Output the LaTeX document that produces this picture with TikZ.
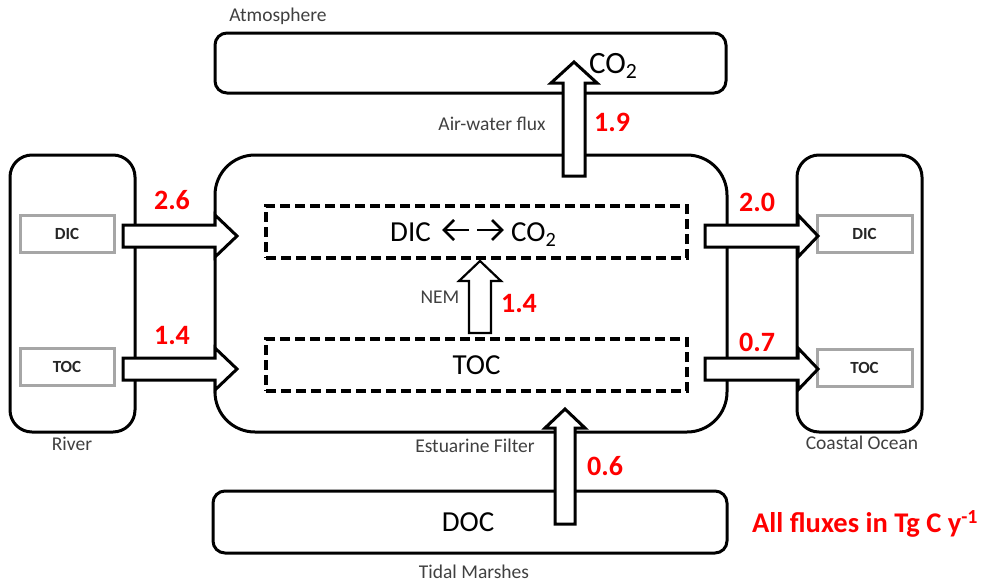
\documentclass[tikz,border=0pt]{standalone}
\usepackage{fontspec}
\usetikzlibrary{calc}
\setmainfont{Carlito}
\definecolor{lbl}{HTML}{404040}
\definecolor{gbox}{HTML}{A6A6A6}
\definecolor{fluxred}{HTML}{FF0000}
\newcommand{\harrowpath}[4]{(#1,#4-11) -- (#2,#4-11) -- (#2,#4-21) -- (#3,#4) -- (#2,#4+21) -- (#2,#4+11) -- (#1,#4+11) -- cycle}
\newcommand{\varrowpath}[6]{(#1-#5,#2) -- (#1-#5,#3) -- (#1-#6,#3) -- (#1,#4) -- (#1+#6,#3) -- (#1+#5,#3) -- (#1+#5,#2) -- cycle}
\begin{document}
\begin{tikzpicture}[x=1pt,y=-1pt,
  box/.style={draw, line width=3pt, rounded corners=12pt, inner sep=0pt, outer sep=0pt},
  greybox/.style={draw=gbox, line width=3pt, fill=white, inner sep=0pt, outer sep=0pt, text=black!85, font=\bfseries\fontsize{17}{20}\selectfont},
  dbox/.style={draw, line width=3.2pt, dash pattern=on 10pt off 5pt, inner sep=0pt, outer sep=0pt},
  blockarrow/.style={draw, fill=white, line width=3pt, line join=miter},
  chev/.style={line width=2.6pt, line cap=butt, line join=miter},
  lab/.style={text=lbl, font=\fontsize{19.5}{22}\selectfont, inner sep=0pt},
  num/.style={text=fluxred, font=\bfseries\fontsize{28}{32}\selectfont, inner sep=0pt},
  big/.style={font=\fontsize{29}{34}\selectfont, inner sep=0pt}]
\useasboundingbox (0,0) rectangle (982,584);

% boxes
\node[box, minimum width=511pt, minimum height=60pt] (atm) at (470.5,63) {};
\node[box, rounded corners=40pt, minimum width=512pt, minimum height=277pt] (est) at (471,293.5) {};
\node[box, rounded corners=22pt, minimum width=125pt, minimum height=277pt] (river) at (72.5,293.5) {};
\node[box, rounded corners=22pt, minimum width=125pt, minimum height=277pt] (ocean) at (859.5,293.5) {};
\node[box, minimum width=514pt, minimum height=62pt] (marsh) at (470,522) {};

\node[dbox, minimum width=421pt, minimum height=52pt] (dicpool) at (476.5,232) {};
\node[dbox, minimum width=421pt, minimum height=52pt] (tocpool) at (476.5,365) {};

\node[greybox, minimum width=94pt, minimum height=37pt] (rdic) at (67,233.5) {DIC};
\node[greybox, minimum width=94pt, minimum height=37pt] (rtoc) at (67,367) {TOC};
\node[greybox, minimum width=95pt, minimum height=37pt] (odic) at (864.5,233.5) {DIC};
\node[greybox, minimum width=95pt, minimum height=37pt] (otoc) at (864.5,367.5) {TOC};

% block arrows
\draw[blockarrow] \harrowpath{123}{215}{237}{236};
\draw[blockarrow] \harrowpath{123}{215}{237}{369};
\draw[blockarrow] \harrowpath{705}{798}{818}{236};
\draw[blockarrow] \harrowpath{705}{798}{818}{369};
\draw[blockarrow] \varrowpath{574}{176}{83}{62}{11}{23};
\draw[blockarrow, line width=2.2pt] \varrowpath{480}{333}{281}{261}{11}{21};
\draw[blockarrow] \varrowpath{565}{524}{428}{409}{10}{20};

% texts
\node[big, anchor=base] (tdic) at (410.5,241.5) {DIC};
\node[big, anchor=base west] (tco2) at (511,241.5) {CO\textsubscript{2}};
\coordinate (la1) at (469,230);
\coordinate (la2) at (444,230);
\coordinate (ra1) at (477,230);
\coordinate (ra2) at (502,230);
\draw[chev] (la1) -- (la2);
\draw[chev] ($(la2)+(10,-10)$) -- (la2) -- ($(la2)+(10,10)$);
\draw[chev] (ra1) -- (ra2);
\draw[chev] ($(ra2)+(-10,-10)$) -- (ra2) -- ($(ra2)+(-10,10)$);
\node[big] (t2) at (tocpool) {TOC};
\node[big] (t3) at (468,522) {DOC};
\node[big, font=\fontsize{31}{34}\selectfont, anchor=west] (t4) at (589,66) {CO\textsubscript{2}};

\node[lab] (l1) at (278,16) {Atmosphere};
\node[lab] (l2) at (72,444) {River};
\node[lab] (l3) at (862,443) {Coastal Ocean};
\node[lab] (l4) at (492,124) {Air-water flux};
\node[lab] (l5) at (475,446) {Estuarine Filter};
\node[lab] (l6) at (474,572) {Tidal Marshes};
\node[lab] (l7) at (440,297) {NEM};

\node[num] (n1) at (172,200) {2.6};
\node[num] (n2) at (172,335) {1.4};
\node[num] (n3) at (757,202) {2.0};
\node[num] (n4) at (757,342) {0.7};
\node[num] (n5) at (612,122) {1.9};
\node[num] (n6) at (519,303) {1.4};
\node[num] (n7) at (605,466) {0.6};
\node[num, font=\bfseries\fontsize{28.5}{32}\selectfont, anchor=west] (n8) at (752,524) {All fluxes in Tg C y\textsuperscript{-1}};
\end{tikzpicture}
\end{document}
